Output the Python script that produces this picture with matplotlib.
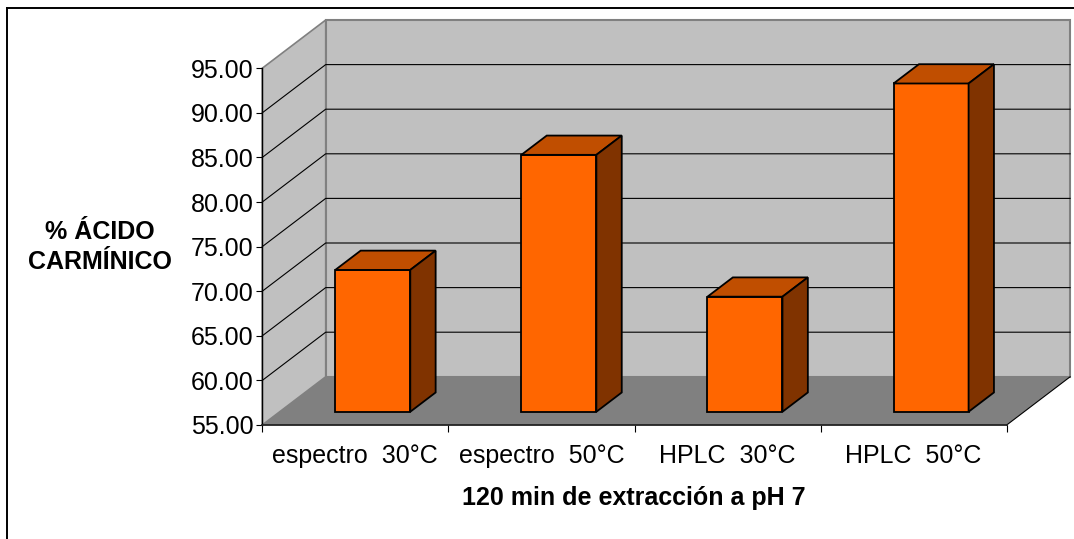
import matplotlib
matplotlib.use("Agg")
import matplotlib.pyplot as plt
from matplotlib.patches import Polygon
from matplotlib.lines import Line2D

plt.rcParams['font.family'] = ['Liberation Sans', 'DejaVu Sans']

# ---- data ----
categories = ["espectro  30°C", "espectro  50°C", "HPLC  30°C", "HPLC  50°C"]
values = [70.9, 83.8, 67.9, 91.8]
y_ticks = [55, 60, 65, 70, 75, 80, 85, 90, 95]
y_label = "% ÁCIDO\nCARMÍNICO"
x_label = "120 min de extracción a pH 7"

# ---- layout (pixels) ----
W, H = 1074, 539
def fx(px): return px / W
def fy(py): return 1 - py / H

FRONT_L, FRONT_R = 262.3, 1006.7
FRONT_B, FRONT_T = 425.0, 68.2
DEPTH_PX_X, DEPTH_PX_Y = 63.4, 48.2

fig = plt.figure(figsize=(W / 100, H / 100), dpi=100)
ax = fig.add_axes([fx(FRONT_L), fy(FRONT_B), (FRONT_R - FRONT_L) / W, (FRONT_B - FRONT_T) / H])
ymin, ymax = y_ticks[0], y_ticks[-1]
ax.set_xlim(-0.5, len(categories) - 0.5)
ax.set_ylim(ymin, ymax)
ax.patch.set_visible(False)

ncat = len(categories)
DX = DEPTH_PX_X / (FRONT_R - FRONT_L) * ncat
DY = DEPTH_PX_Y / (FRONT_B - FRONT_T) * (ymax - ymin)

x0, x1 = -0.5, ncat - 0.5
WALL = "#C0C0C0"
FLOOR = "#808080"

# back wall
ax.add_patch(Polygon([(x0 + DX, ymin + DY), (x1 + DX, ymin + DY), (x1 + DX, ymax + DY), (x0 + DX, ymax + DY)],
                     closed=True, facecolor=WALL, edgecolor="#808080", lw=1.5, clip_on=False, zorder=0.5))
# side wall
ax.add_patch(Polygon([(x0, ymin), (x0, ymax), (x0 + DX, ymax + DY), (x0 + DX, ymin + DY)],
                     closed=True, facecolor=WALL, edgecolor="#808080", lw=1.2, clip_on=False, zorder=0.5))
# floor
ax.add_patch(Polygon([(x0, ymin), (x1, ymin), (x1 + DX, ymin + DY), (x0 + DX, ymin + DY)],
                     closed=True, facecolor=FLOOR, edgecolor="none", clip_on=False, zorder=0.55))
ax.add_line(Line2D([x1, x1 + DX], [ymin, ymin + DY], color="black", lw=0.8, clip_on=False, zorder=0.6))

# gridlines
for v in y_ticks[1:-1]:
    ax.add_line(Line2D([x0, x0 + DX, x1 + DX], [v, v + DY, v + DY], color="black", lw=0.8,
                       clip_on=False, zorder=0.6))

# bars
BW = 0.403
D0, BD = 0.275, 0.40
FRONT_C, TOP_C, SIDE_C = "#FF6600", "#C04E00", "#803300"
for i, v in enumerate(values):
    bx = i - BW / 2 + D0 * DX
    by = ymin + D0 * DY
    ty = v + D0 * DY
    ox, oy = BD * DX, BD * DY
    kw = dict(closed=True, edgecolor="black", lw=1.3, clip_on=False, zorder=2, joinstyle="miter")
    ax.add_patch(Polygon([(bx, by), (bx + BW, by), (bx + BW, ty), (bx, ty)], facecolor=FRONT_C, **kw))
    ax.add_patch(Polygon([(bx, ty), (bx + BW, ty), (bx + BW + ox, ty + oy), (bx + ox, ty + oy)], facecolor=TOP_C, **kw))
    ax.add_patch(Polygon([(bx + BW, by), (bx + BW, ty), (bx + BW + ox, ty + oy), (bx + BW + ox, by + oy)],
                         facecolor=SIDE_C, **kw))

# axes styling
for s in ("top", "right"):
    ax.spines[s].set_visible(False)
ax.spines["left"].set_color("black")
ax.spines["left"].set_linewidth(1.0)
ax.spines["bottom"].set_color("#222222")
ax.spines["bottom"].set_linewidth(1.3)
ax.spines["left"].set_zorder(3)
ax.spines["bottom"].set_zorder(3)

ax.set_yticks(y_ticks, [f"{t:.2f}" for t in y_ticks])
ax.tick_params(axis="y", direction="out", length=4.5, width=0.8, labelsize=18, pad=2, colors="black")
ax.set_xticks(range(ncat), categories)
ax.tick_params(axis="x", which="major", length=0, labelsize=18, pad=14)
ax.set_xticks([i - 0.5 for i in range(ncat + 1)], minor=True)
ax.tick_params(axis="x", which="minor", direction="out", length=5, width=0.8, color="black")

fig.text(fx(100), fy(247), y_label, ha="center", va="center", fontsize=18, fontweight="bold",
         multialignment="center", linespacing=1.3)
fig.text(fx(634), fy(498), x_label, ha="center", va="center", fontsize=18, fontweight="bold")

# chart border
fig.add_artist(Line2D([fx(6.5), fx(6.5)], [fy(7.5), 0], color="black", lw=1.4))
fig.add_artist(Line2D([fx(6.5), 1], [fy(7.5), fy(7.5)], color="black", lw=1.4))

fig.savefig("out.png", dpi=100)
